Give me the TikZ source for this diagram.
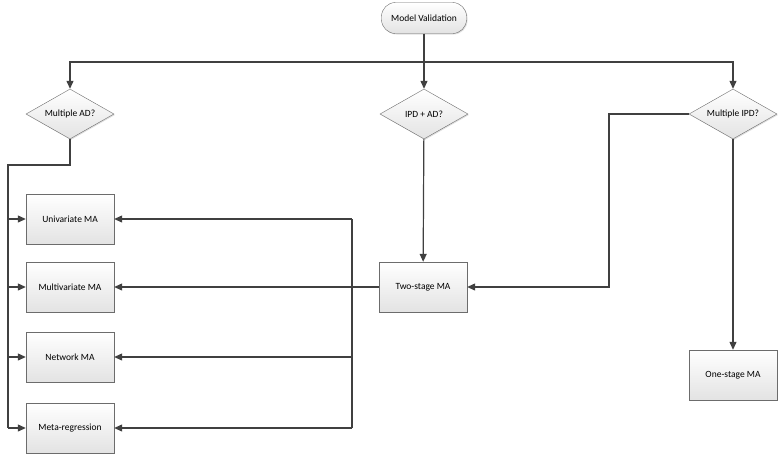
\documentclass[tikz,border=0pt]{standalone}
\usepackage{fontspec}
\setmainfont{Carlito}
\usetikzlibrary{arrows.meta,shapes.geometric,shadows}

\begin{document}
\begin{tikzpicture}[x=1pt,y=-1pt,
    every node/.style={font=\fontsize{9.5}{11}\selectfont},
    box/.style={draw=gray!85!black,top color=white,bottom color=gray!22,
      minimum width=88pt,minimum height=50pt,inner sep=2pt,
      drop shadow={shadow xshift=1pt,shadow yshift=-1pt,opacity=.25}},
    start/.style={box,rounded corners=14pt,minimum width=85pt,minimum height=31pt},
    choice/.style={box,diamond,aspect=1.76,inner sep=0pt},
    link/.style={draw=black!75,line width=1.2pt},
    arr/.style={link,-{Triangle[length=8pt,width=7pt]}}]
  \useasboundingbox (0,0) rectangle (778,456);

  % start and decisions
  \node[start] (mv) at (424,18) {Model Validation};
  \node[choice] (ad) at (70,114) {Multiple AD?};
  \node[choice] (ipd) at (424,114) {IPD + AD?};
  \node[choice] (mipd) at (733,114) {Multiple IPD?};

  % analyses
  \node[box] (uni) at (70,219) {Univariate MA};
  \node[box] (multi) at (70,287) {Multivariate MA};
  \node[box] (net) at (70,357) {Network MA};
  \node[box] (meta) at (70,428) {Meta-regression};
  \node[box] (two) at (423,287) {Two-stage MA};
  \node[box] (one) at (733,375) {One-stage MA};

  \coordinate (bus) at (424,62);
  \coordinate (ltop) at (8,165);
  \coordinate (rbus) at (352,219);
  \coordinate (bend) at (609,114);

  % top bus
  \draw[arr] (mv) -- (ipd);
  \draw[arr] (bus) -| (ad);
  \draw[arr] (bus) -| (mipd);

  % left side
  \draw[link] (ad) |- (ltop) -- (ltop |- meta.west);
  \draw[arr] (ltop |- uni.west) -- (uni);
  \draw[arr] (ltop |- multi.west) -- (multi);
  \draw[arr] (ltop |- net.west) -- (net);
  \draw[arr] (ltop |- meta.west) -- (meta);

  % two-stage
  \draw[arr] (ipd) -- (two);
  \draw[arr] (mipd) -- (bend) |- (two);
  \draw[arr] (mipd) -- (one);
  \draw[link] (rbus) -- (rbus |- meta.east);
  \draw[arr] (rbus) -- (uni);
  \draw[arr] (two) -- (multi);
  \draw[arr] (rbus |- net.east) -- (net);
  \draw[arr] (rbus |- meta.east) -- (meta);
\end{tikzpicture}
\end{document}
